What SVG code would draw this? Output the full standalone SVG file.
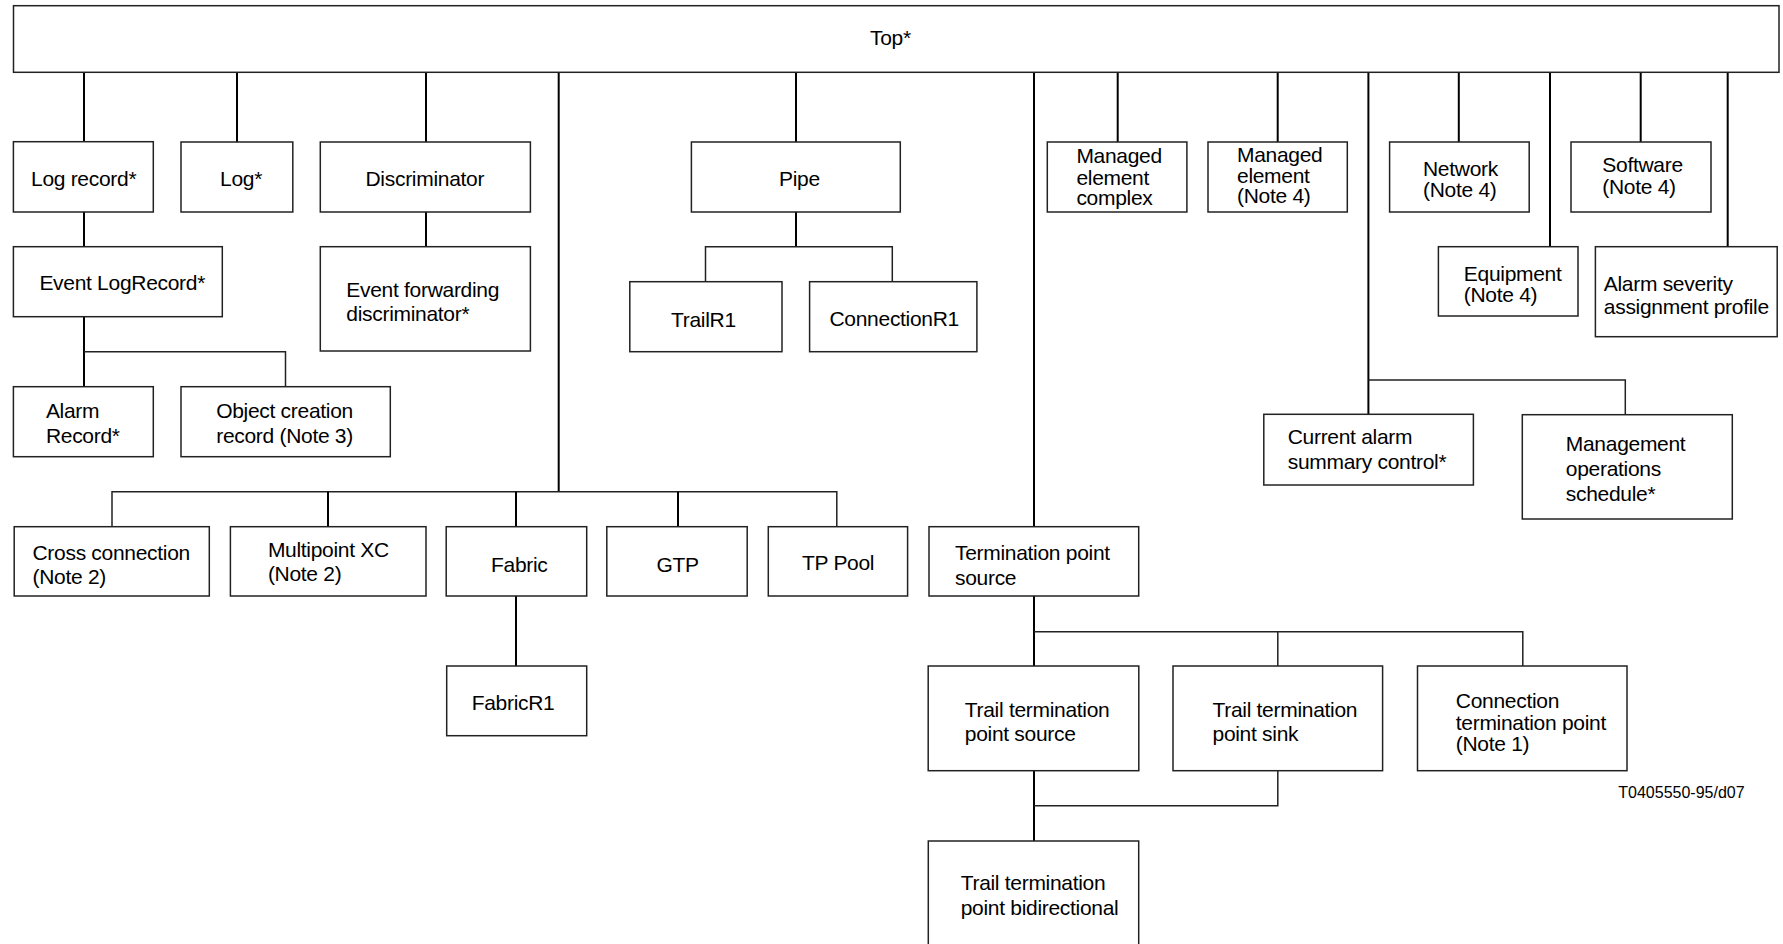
<svg xmlns="http://www.w3.org/2000/svg" width="1783" height="944" viewBox="0 0 1783 944">
<style>
.b{fill:#fff;stroke:#222;stroke-width:1.5}
.t{font-family:"Liberation Sans",Arial,sans-serif;font-size:21px;letter-spacing:-0.3px;fill:#000}
.s{font-family:"Liberation Sans",Arial,sans-serif;font-size:16px;fill:#000}
.c{fill:none;stroke:#000;stroke-width:2}
.h{fill:none;stroke:#222;stroke-width:1.5}
</style>
<rect width="1783" height="944" fill="#fff"/>
<g id="connectors">
<path class="c" d="M84 72V142M237 72V142M426 72V142M558.7 72V492M796 72V142M1034 72V527M1117.7 72V142M1277.7 72V142M1368.4 72V414.5M1458.8 72V142M1550 72V246.7M1640.7 72V142M1727.7 72V246.7"/>
<path class="c" d="M84 212V246.7M426 212V246.7M84 316.7V386.7M796 212V246.7M516 596V666M1034 596V666M1034 770.7V841"/>
<path class="h" d="M84 351.7H285.5V386.7M705.5 281.7V246.7H892.3V281.7M1368.4 380H1625.3V414.7"/>
<path class="h" d="M112 526.7V491.7H836.8V526.7"/>
<path class="c" d="M328 491.7V526.7M516 491.7V526.7M678 491.7V526.7"/>
<path class="h" d="M1034 631.7H1522.8V666M1277.8 631.7V666M1034 805.7H1277.8V770.7"/>
</g>
<g id="top"><rect class="b" x="13.5" y="5.7" width="1765.5" height="66.6"/><text class="t" x="870" y="45">Top*</text></g>
<g id="logrecord"><rect class="b" x="13.4" y="141.7" width="139.9" height="70.3"/><text class="t" x="31" y="185.5">Log record*</text></g>
<g id="log"><rect class="b" x="181" y="142" width="111.8" height="70"/><text class="t" x="220" y="185.5">Log*</text></g>
<g id="discriminator"><rect class="b" x="320.3" y="142" width="210.1" height="70"/><text class="t" x="365.5" y="185.5">Discriminator</text></g>
<g id="eventlogrecord"><rect class="b" x="13.4" y="246.7" width="208.9" height="70"/><text class="t" x="39.4" y="290">Event LogRecord*</text></g>
<g id="efd"><rect class="b" x="320.3" y="246.7" width="210.1" height="104.3"/><text class="t" x="346.3" y="296.7">Event forwarding</text><text class="t" x="346.3" y="320.7">discriminator*</text></g>
<g id="alarmrecord"><rect class="b" x="13.4" y="386.7" width="139.9" height="70"/><text class="t" x="45.9" y="418.3">Alarm</text><text class="t" x="45.9" y="442.7">Record*</text></g>
<g id="objectcreation"><rect class="b" x="181" y="386.7" width="209.3" height="70"/><text class="t" x="216.2" y="418.3">Object creation</text><text class="t" x="216.2" y="442.7">record (Note 3)</text></g>
<g id="pipe"><rect class="b" x="691.4" y="142" width="208.9" height="70"/><text class="t" x="779" y="185.5">Pipe</text></g>
<g id="trailr1"><rect class="b" x="629.8" y="281.7" width="152.2" height="70"/><text class="t" x="671" y="326.5">TrailR1</text></g>
<g id="connectionr1"><rect class="b" x="809.6" y="281.7" width="167.3" height="70"/><text class="t" x="829.5" y="326">ConnectionR1</text></g>
<g id="mecomplex"><rect class="b" x="1047.3" y="142" width="139.6" height="70"/><text class="t" x="1076.4" y="163.3">Managed</text><text class="t" x="1076.4" y="184.5">element</text><text class="t" x="1076.4" y="205">complex</text></g>
<g id="managedelement"><rect class="b" x="1208" y="142" width="139.3" height="70"/><text class="t" x="1237" y="162.3">Managed</text><text class="t" x="1237" y="182.7">element</text><text class="t" x="1237" y="203">(Note 4)</text></g>
<g id="network"><rect class="b" x="1389.6" y="142" width="139.6" height="70"/><text class="t" x="1423" y="175.7">Network</text><text class="t" x="1423" y="197">(Note 4)</text></g>
<g id="software"><rect class="b" x="1571" y="142" width="140" height="70"/><text class="t" x="1602.3" y="172.3">Software</text><text class="t" x="1602.3" y="193.5">(Note 4)</text></g>
<g id="equipment"><rect class="b" x="1438.4" y="246.7" width="139.6" height="69.3"/><text class="t" x="1463.8" y="281">Equipment</text><text class="t" x="1463.8" y="302">(Note 4)</text></g>
<g id="alarmseverity"><rect class="b" x="1595.4" y="246.7" width="181.8" height="90"/><text class="t" x="1603.8" y="291">Alarm severity</text><text class="t" x="1603.8" y="314.3">assignment profile</text></g>
<g id="currentalarm"><rect class="b" x="1263.8" y="414.3" width="209.6" height="70.7"/><text class="t" x="1287.7" y="444">Current alarm</text><text class="t" x="1287.7" y="469">summary control*</text></g>
<g id="mgmtops"><rect class="b" x="1522.3" y="414.7" width="210" height="104.3"/><text class="t" x="1565.8" y="450.7">Management</text><text class="t" x="1565.8" y="475.7">operations</text><text class="t" x="1565.8" y="500.7">schedule*</text></g>
<g id="crossconnection"><rect class="b" x="14.2" y="526.7" width="195.1" height="69.3"/><text class="t" x="32.5" y="559.5">Cross connection</text><text class="t" x="32.5" y="584">(Note 2)</text></g>
<g id="multipointxc"><rect class="b" x="230.4" y="526.7" width="195.6" height="69.3"/><text class="t" x="267.9" y="556.7">Multipoint XC</text><text class="t" x="267.9" y="581">(Note 2)</text></g>
<g id="fabric"><rect class="b" x="446.2" y="526.7" width="140.5" height="69.3"/><text class="t" x="491" y="571.5">Fabric</text></g>
<g id="gtp"><rect class="b" x="606.8" y="526.7" width="140.4" height="69.3"/><text class="t" x="656.5" y="571.5">GTP</text></g>
<g id="tppool"><rect class="b" x="768.3" y="526.7" width="139.3" height="69.3"/><text class="t" x="802" y="570">TP Pool</text></g>
<g id="tpsource"><rect class="b" x="929" y="526.7" width="209.7" height="69.3"/><text class="t" x="955" y="560">Termination point</text><text class="t" x="955" y="585">source</text></g>
<g id="fabricr1"><rect class="b" x="446.7" y="666" width="140" height="69.7"/><text class="t" x="471.7" y="710">FabricR1</text></g>
<g id="ttpsource"><rect class="b" x="928.2" y="666" width="210.6" height="104.7"/><text class="t" x="964.8" y="716.7">Trail termination</text><text class="t" x="964.8" y="741">point source</text></g>
<g id="ttpsink"><rect class="b" x="1173" y="666" width="209.6" height="104.7"/><text class="t" x="1212.5" y="716.7">Trail termination</text><text class="t" x="1212.5" y="741">point sink</text></g>
<g id="ctp"><rect class="b" x="1417.5" y="666" width="209.5" height="104.7"/><text class="t" x="1455.8" y="707.7">Connection</text><text class="t" x="1455.8" y="730">termination point</text><text class="t" x="1455.8" y="751">(Note 1)</text></g>
<g id="ttpbidir"><rect class="b" x="928.3" y="841" width="210.4" height="110"/><text class="t" x="960.7" y="890">Trail termination</text><text class="t" x="960.7" y="915">point bidirectional</text></g>
<text class="s" x="1618.3" y="797.7">T0405550-95/d07</text>
</svg>
